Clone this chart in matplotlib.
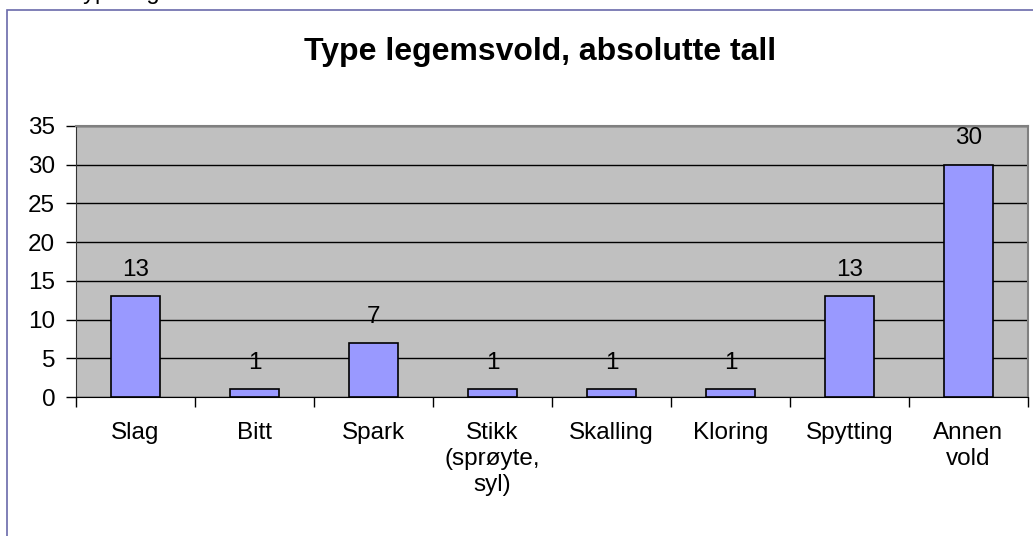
import numpy as np
import matplotlib.pyplot as plt
from matplotlib.patches import Rectangle

plt.rcParams['font.family'] = ['Liberation Sans', 'DejaVu Sans']

categories = ['Slag', 'Bitt', 'Spark', 'Stikk\n(sprøyte,\nsyl)', 'Skalling',
              'Kloring', 'Spytting', 'Annen\nvold']
values = [13, 1, 7, 1, 1, 1, 13, 30]
yticks = [0, 5, 10, 15, 20, 25, 30, 35]

fig = plt.figure(figsize=(10.33, 5.36), dpi=100)

# outer chart frame (partly cut off at the image edges)
fig.patches.append(Rectangle((7 / 1033, -0.05), 1.2, 1 - 10 / 536 + 0.05,
                             transform=fig.transFigure, fill=False,
                             edgecolor='#6a6aaa', linewidth=1.2))
# cut off heading above the frame
fig.text(0.068, 1 + 1 / 536, 'Type legemsvold', fontsize=17, va='baseline',
         ha='left', color='black')

ax = fig.add_axes([76 / 1033, 1 - 397 / 536, (1028 - 76) / 1033, (397 - 126) / 536])
ax.set_facecolor('#c0c0c0')

x = np.arange(len(categories))
bars = ax.bar(x, values, width=0.42, color='#9999ff', edgecolor='black',
              linewidth=1.2, zorder=3)
for xi, v in zip(x, values):
    ax.annotate(str(v), (xi, v), xytext=(0, 11), textcoords='offset points',
                ha='center', va='bottom', fontsize=17.5)

ax.set_xlim(-0.5, len(categories) - 0.5)
ax.set_ylim(0, 35)
ax.set_yticks(yticks)
ax.set_yticklabels([str(t) for t in yticks], fontsize=17.5)
ax.yaxis.grid(True, color='black', linewidth=1, zorder=1)
ax.set_axisbelow(True)

ax.set_xticks(np.arange(len(categories) + 1) - 0.5)
ax.set_xticklabels([])
ax.set_xticks(x, minor=True)
ax.set_xticklabels(categories, minor=True, fontsize=17.5, linespacing=1.25, va='top')
ax.tick_params(axis='x', which='minor', length=0, pad=18)
ax.tick_params(axis='x', which='major', length=7, width=1, color='black')
ax.tick_params(axis='y', length=7, width=1, color='black', pad=8)

for s in ['top', 'right']:
    ax.spines[s].set_color('#808080')
    ax.spines[s].set_linewidth(1.5)
ax.spines['left'].set_color('#333333')
ax.spines['bottom'].set_color('black')

fig.text(540 / 1033, 1 - 52 / 536, 'Type legemsvold, absolutte tall',
         fontsize=23, fontweight='bold', ha='center', va='center')

fig.savefig('out.png', dpi=100, facecolor='white')
